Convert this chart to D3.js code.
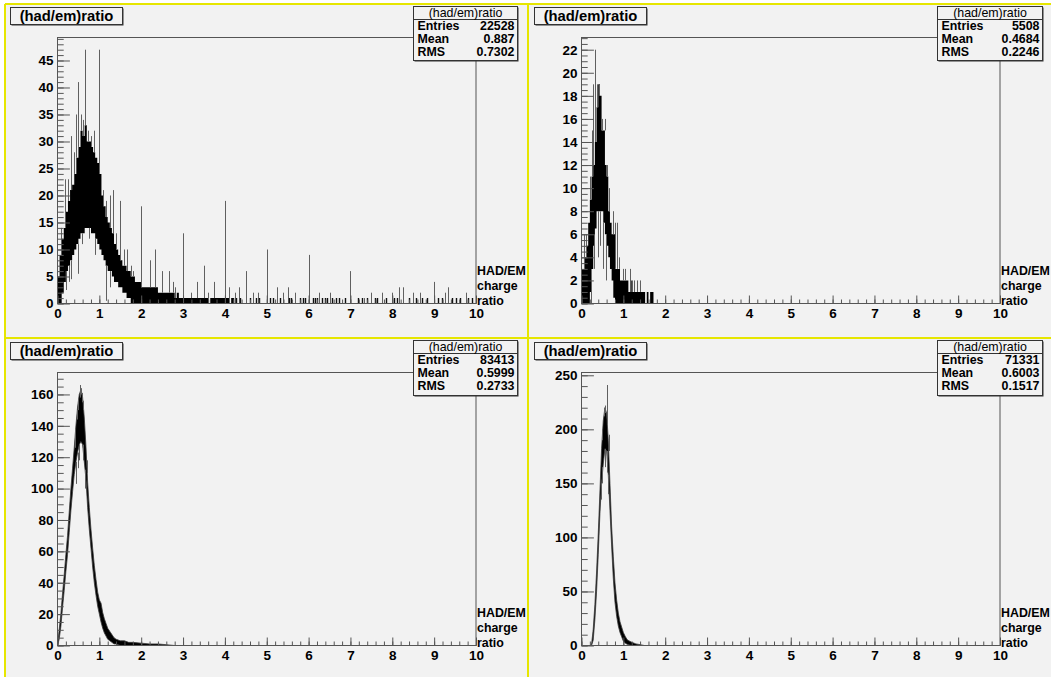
<!DOCTYPE html>
<html>
<head>
<meta charset="utf-8">
<script src="https://cdn.jsdelivr.net/npm/d3@7"></script>
<style>
  html, body { margin: 0; padding: 0; background: #ffffff; }
  svg { display: block; font-family: "Liberation Sans", Arial, Helvetica, sans-serif; }
</style>
</head>
<body>
<svg id="canvas" width="1051" height="677"></svg>
<script>
// ------------------------------------------------------------------
// Histogram data: (had/em) charge ratio, four samples.
// Each dense region is stored as a band (lowest / highest bin count
// inside each small ratio slice); isolated bins are stored as spikes
// [ratio, from, to].
// ------------------------------------------------------------------
const histTitle = "(had/em)ratio";
const axisTitleLines = ["HAD/EM", "charge", "ratio"];
const statLabels = ["Entries", "Mean", "RMS"];
const statEntries = ["22528", "5508", "83413", "71331"];
const statMeans   = ["0.887", "0.4684", "0.5999", "0.6003"];
const statRMS     = ["0.7302", "0.2246", "0.2733", "0.1517"];

const xTickLabels = [0, 1, 2, 3, 4, 5, 6, 7, 8, 9, 10];

// --- top-left sample (22528 entries) ---
const ratioTL = [0.00,0.05,0.10,0.15,0.20,0.25,0.30,0.35,0.40,0.45,0.50,0.55,0.60,0.65,0.70,0.75,0.80,0.85,0.90,0.95,
                 1.00,1.05,1.10,1.15,1.20,1.25,1.30,1.35,1.40,1.45,1.50,1.55,1.60,1.65,1.70,1.75,1.80,1.85,1.90,1.95,
                 2.00,2.05,2.10,2.15,2.20,2.25,2.30,2.35,2.40,2.45,2.50,2.55,2.60,2.65,2.70,2.75,2.80,2.85,2.90,2.95,
                 3.00,3.05,3.10,3.15,3.20,3.25,3.30,3.35,3.40,3.45,3.50,3.55,3.60,3.65,3.70,3.75,3.80,3.85,3.90,3.95,
                 4.00,4.05,4.10,4.15,4.20];
const hiTL = [5,9,12,14,17,19,21,22,24,27,29,32,31,33,30,30,29,28,27,26,
              24,20,18,16,15,14,13,11,10,9,8,7,7,6,6,5,5,4,4,4,
              3,3,3,3,3,3,3,3,2,2,2,2,2,2,2,2,1,2,1,1,
              1,1,1,1,1,1,1,1,1,1,1,1,0,1,1,1,1,1,1,1,
              1,1,0,1,0];
const loTL = [0,0,2,4,6,7,8,9,10,11,12,13,13,14,14,14,13,13,12,11,
              10,9,8,7,6,6,5,4,4,3,3,2,2,1,1,0,0,0,0,0,
              0,0,0,0,0,0,0,0,0,0,0,0,0,0,0,0,0,0,0,0,
              0,0,0,0,0,0,0,0,0,0,0,0,0,0,0,0,0,0,0,0,
              0,0,0,0,0];
const spikesTL = [
  [0.08,9,14],[0.17,14,23],[0.24,19,23],[0.333,21,31],[0.40,24,28],[0.45,27,35],[0.50,29,41],
  [0.55,32,35],[0.60,31,34],[0.667,33,47],[0.73,30,32],[0.80,29,31],[0.88,28,32],[1.00,24,47],
  [1.08,18,21],[1.167,16,19],[1.25,14,20],[1.333,13,21],[1.40,10,13],[1.50,8,19],[1.60,7,10],
  [1.667,6,10],[1.75,5,7],[1.80,5,6],[2.00,3,18],[2.20,3,8],[2.333,3,10],[2.50,2,6],[2.667,2,6],
  [2.75,2,4],[2.80,1,3],[3.00,1,13],[3.20,1,2],[3.333,1,4],[3.50,1,7],[3.60,0,2],[3.75,1,4],
  [4.00,1,19],[4.10,0,3],[4.25,0,2],[4.333,0,3],[4.50,0,6],[4.667,0,2],[4.80,0,2],[5.00,0,10],
  [5.25,0,3],[5.40,0,2],[5.50,0,3],[5.667,0,2],[6.00,0,9],[6.25,0,2],[6.50,0,2],[7.00,0,6],
  [7.333,0,1],[7.50,0,2],[7.75,0,2],[8.00,0,2],[8.167,0,3],[8.25,0,3],[8.50,0,2],[8.667,0,2],
  [9.00,0,4],[9.25,0,2],[9.333,0,3],[9.75,0,2],
  [0.20,2.5,6],[0.27,4,7],[0.333,4.5,8],[0.48,5.5,11],[0.58,11,13],[0.75,12,14],[0.90,9,12],
  [1.167,0.5,7],[1.25,3,6]
];
const singlesTL = [4.19,4.27,4.37,4.59,4.75,4.82,5.08,5.14,5.32,5.54,5.58,5.80,5.87,5.92,6.11,6.16,
                   6.21,6.33,6.38,6.43,6.57,6.65,6.73,6.87,7.19,7.27,7.40,7.58,7.64,7.86,8.05,8.11,
                   8.39,8.56,8.72,8.83,9.10,9.19,9.43,9.53,9.61,9.80,9.90];
const yTicksTL = [0,5,10,15,20,25,30,35,40,45];

// --- top-right sample (5508 entries) ---
const ratioTR = [0.00,0.04,0.08,0.12,0.16,0.20,0.24,0.28,0.32,0.36,0.40,0.44,0.48,0.52,0.56,0.60,0.64,0.68,0.72,0.76,
                 0.80,0.84,0.88,0.92,0.96,1.00,1.04,1.08,1.12,1.16,1.20,1.24,1.28,1.32,1.36,1.40,1.44,1.48,1.52,1.56,
                 1.60,1.64,1.68,1.72];
const hiTR = [3,3,4,5,7,9,11,12,14,17,19,18,15,15,12,11,8,7,6,6,
              3,3,3,2,2,2,2,2,1,2,1,1,1,1,1,1,1,1,0,1,
              0,1,1,0];
const loTR = [0,0,0,0,0,1,3,5,6.5,8,8,8,8,7,6,5,4,3,2,0.5,
              0,0,0,0,0,0,0,0,0,0,0,0,0,0,0,0,0,0,0,0,
              0,0,0,0];
const spikesTR = [
  [0.05,3,6],[0.10,4,6],[0.20,9,11],[0.24,11,15],[0.28,12,19],[0.333,14,22],[0.37,17,19],
  [0.43,18,19],[0.50,15,16],[0.55,15,16],[0.60,11,12],[0.667,8,10],[0.75,6,8],[0.80,3,7],
  [0.857,3,7],[0.90,3,4],[1.00,2,3],[1.05,2,3],[1.15,1,3],[1.20,1,2],[1.25,1,2],[1.333,1,2],[1.40,1,2],
  [0.22,0,2],[0.30,3,6],[0.40,4,8],[0.45,5,8],[0.52,3,7],[0.58,2,6]
];
const yTicksTR = [0,2,4,6,8,10,12,14,16,18,20,22];

// --- bottom-left sample (83413 entries) ---
const ratioBL = [0.00,0.04,0.08,0.12,0.16,0.20,0.24,0.28,0.32,0.36,0.40,0.44,0.48,0.52,0.56,0.60,0.64,0.68,0.72,0.76,
                 0.80,0.84,0.88,0.92,0.96,1.00,1.04,1.08,1.12,1.16,1.20,1.25,1.30,1.35,1.40,1.50,1.60,1.70,1.80,2.00,
                 2.20,2.40,2.60,2.80];
const hiBL = [0,10,20,33,45,58,70,85,100,113,126,140,152,160,163,158,145,127,104,88,
              74,62,51,42,34,29,27,21,17,14,11,9,7,5,4,3,3,2,2,1.5,
              1,1,0.5,0];
const loBL = [0,4,12,24,35,47,58,72,86,98,109,117,123,128,130,128,117,106,88,74,
              62,50,40,32,25,20,15,11,8,6,4,3,2,1,1,0,0,0,0,0,
              0,0,0,0];
const spikesBL = [
  [0.41,126,138],[0.46,144,150],[0.50,150,157],[0.533,158,166],[0.56,160,164],[0.59,155,161],
  [0.62,150,156],[0.70,110,118],
  [0.44,103,117],[0.49,113,123],[0.52,118,128],[0.60,118,128],[0.66,100,112]
];
const yTicksBL = [0,20,40,60,80,100,120,140,160];

// --- bottom-right sample (71331 entries) ---
const ratioBR = [0.20,0.24,0.28,0.32,0.36,0.40,0.44,0.48,0.52,0.56,0.60,0.64,0.68,0.72,0.76,0.80,0.84,0.88,0.92,0.96,
                 1.00,1.05,1.10,1.20,1.30,1.40,1.50];
const hiBR = [0,1,15,38,68,103,142,182,208,220,215,190,150,110,82,58,42,30,22,17,
              12,8,5,3,1.5,0.8,0];
const loBR = [0,0,5,24,50,84,122,150,168,182,180,158,125,92,62,40,27,18,12,8,
              4,2,1,0,0,0,0];
const spikesBR = [
  [0.50,190,200],[0.54,212,220],[0.57,215,222],[0.617,205,241],[0.65,180,195],
  [0.47,135,150],[0.50,150,165],[0.56,165,182],[0.60,160,180],[0.64,140,158]
];
const yTicksBR = [0,50,100,150,200,250];

// ------------------------------------------------------------------
// Drawing
// ------------------------------------------------------------------
const svg = d3.select("#canvas");
const PAD_BG = "#f2f2f2";
const AXIS_COL = "#555555";
const FONT = "'Liberation Sans', Arial, Helvetica, sans-serif";

// canvas background for the pads
svg.append("rect").attr("x", 5).attr("y", 4).attr("width", 1046).attr("height", 673).attr("fill", PAD_BG);

const pads = [
  { frame: {left: 57.5, right: 476, top: 37, bottom: 303.5}, title: [10, 7], stats: [413, 6, 104, 54],
    xs: ratioTL, hi: hiTL, lo: loTL, spikes: spikesTL, singles: singlesTL, yTicks: yTicksTL, yMinor: 1,
    curve: d3.curveStepAfter, stat: 0 },
  { frame: {left: 581.5, right: 1000, top: 37, bottom: 303.5}, title: [534, 7], stats: [937, 6, 105, 54],
    xs: ratioTR, hi: hiTR, lo: loTR, spikes: spikesTR, singles: [], yTicks: yTicksTR, yMinor: 0.5,
    curve: d3.curveStepAfter, stat: 1 },
  { frame: {left: 57.5, right: 476, top: 372, bottom: 645.5}, title: [10, 342], stats: [413, 340, 104, 55],
    xs: ratioBL, hi: hiBL, lo: loBL, spikes: spikesBL, singles: [], yTicks: yTicksBL, yMinor: 5,
    curve: d3.curveLinear, stat: 2 },
  { frame: {left: 581.5, right: 1000, top: 372, bottom: 645.5}, title: [534, 342], stats: [937, 340, 105, 55],
    xs: ratioBR, hi: hiBR, lo: loBR, spikes: spikesBR, singles: [], yTicks: yTicksBR, yMinor: 10,
    curve: d3.curveLinear, stat: 3 }
];

function styleAxis(sel) {
  sel.select(".domain").remove();
  sel.selectAll(".tick line").attr("stroke", AXIS_COL).attr("stroke-width", 1);
  sel.selectAll(".tick text")
    .attr("fill", "#000")
    .style("font-family", FONT)
    .style("font-weight", "bold")
    .style("font-size", "13.5px");
}

pads.forEach((p, idx) => {
  const {left, right, top, bottom} = p.frame;
  const g = svg.append("g");

  const x = d3.scaleLinear().domain([0, 10]).range([left, right]);
  const maxBin = d3.max([d3.max(p.hi), d3.max(p.spikes, s => s[2])]);
  const y = d3.scaleLinear().domain([0, maxBin * 1.05]).range([bottom, top]);

  const clipId = "clip" + idx;
  svg.append("clipPath").attr("id", clipId)
    .append("rect").attr("x", left).attr("y", top).attr("width", right - left).attr("height", bottom - top);

  const plot = g.append("g").attr("clip-path", `url(#${clipId})`);

  // dense band
  const band = p.xs.map((v, i) => ({x: v, lo: p.lo[i], hi: p.hi[i]}));
  const area = d3.area().x(d => x(d.x)).y0(d => y(d.lo)).y1(d => y(d.hi)).curve(p.curve);
  plot.append("path").datum(band).attr("d", area)
    .attr("fill", "#000")
    .attr("stroke", p.curve === d3.curveLinear ? "#3a3a3a" : "none")
    .attr("stroke-width", 0.8);

  // isolated bins
  plot.selectAll("line.spike").data(p.spikes).join("line")
    .attr("class", "spike")
    .attr("x1", d => Math.round(x(d[0])) + 0.5).attr("x2", d => Math.round(x(d[0])) + 0.5)
    .attr("y1", d => y(d[1])).attr("y2", d => y(d[2]))
    .attr("stroke", "#606060").attr("stroke-width", 1);

  plot.selectAll("line.single").data(p.singles).join("line")
    .attr("class", "single")
    .attr("x1", d => Math.round(x(d)) + 0.5).attr("x2", d => Math.round(x(d)) + 0.5)
    .attr("y1", y(0)).attr("y2", y(1))
    .attr("stroke", "#111").attr("stroke-width", 1.4);

  // axes
  const xMinor = d3.range(0, 10.001, 0.2);
  g.append("g").attr("transform", `translate(0,${bottom})`)
    .call(d3.axisBottom(x).tickValues(xMinor).tickSize(-4).tickFormat(""))
    .call(styleAxis);
  g.append("g").attr("transform", `translate(0,${bottom})`)
    .call(d3.axisBottom(x).tickValues(xTickLabels).tickSize(-8).tickPadding(5).tickFormat(d3.format("d")))
    .call(styleAxis);

  const yMinorTicks = d3.range(0, y.domain()[1], p.yMinor);
  g.append("g").attr("transform", `translate(${left},0)`)
    .call(d3.axisLeft(y).tickValues(yMinorTicks).tickSize(-6.2).tickFormat(""))
    .call(styleAxis);
  g.append("g").attr("transform", `translate(${left},0)`)
    .call(d3.axisLeft(y).tickValues(p.yTicks).tickSize(-12.4).tickPadding(4).tickFormat(d3.format("d")))
    .call(styleAxis);

  // frame
  g.append("rect").attr("x", left).attr("y", top + 0.5).attr("width", right - left).attr("height", bottom - top - 0.5)
    .attr("fill", "none").attr("stroke", AXIS_COL).attr("stroke-width", 1);

  // axis title
  const at = g.append("text")
    .style("font-family", FONT).style("font-weight", "bold").style("font-size", "12.4px").attr("fill", "#000");
  axisTitleLines.forEach((t, i) => {
    at.append("tspan").attr("x", right + 1).attr("y", bottom + [-29, -13.5, 1.5][i]).text(t);
  });

  // title box
  const [tx, ty] = p.title;
  g.append("rect").attr("x", tx + 1.5).attr("y", ty + 1.5).attr("width", 112).attr("height", 17).attr("fill", "#333");
  g.append("rect").attr("x", tx + 0.5).attr("y", ty + 0.5).attr("width", 112).attr("height", 17)
    .attr("fill", PAD_BG).attr("stroke", "#333").attr("stroke-width", 1);
  g.append("text").attr("x", tx + 56.5).attr("y", ty + 14).attr("text-anchor", "middle")
    .style("font-family", FONT).style("font-weight", "bold").style("font-size", "14.8px").attr("fill", "#000")
    .text(histTitle);

  // statistics box
  const [sx, sy, sw, sh] = p.stats;
  g.append("rect").attr("x", sx + 1.5).attr("y", sy + 1.5).attr("width", sw).attr("height", sh).attr("fill", "#333");
  g.append("rect").attr("x", sx + 0.5).attr("y", sy + 0.5).attr("width", sw).attr("height", sh)
    .attr("fill", PAD_BG).attr("stroke", "#333").attr("stroke-width", 1);
  g.append("line").attr("x1", sx + 0.5).attr("x2", sx + sw + 0.5).attr("y1", sy + 13.5).attr("y2", sy + 13.5)
    .attr("stroke", "#333").attr("stroke-width", 1);
  g.append("text").attr("x", sx + sw / 2 + 0.5).attr("y", sy + 11).attr("text-anchor", "middle")
    .style("font-family", FONT).style("font-size", "12.4px").attr("fill", "#000").text(histTitle);
  const vals = [statEntries[p.stat], statMeans[p.stat], statRMS[p.stat]];
  statLabels.forEach((lab, i) => {
    const by = sy + 23.5 + i * 13.4;
    g.append("text").attr("x", sx + 4.5).attr("y", by)
      .style("font-family", FONT).style("font-weight", "bold").style("font-size", "12.4px").attr("fill", "#000").text(lab);
    g.append("text").attr("x", sx + sw - 2.5).attr("y", by).attr("text-anchor", "end")
      .style("font-family", FONT).style("font-weight", "bold").style("font-size", "12.4px").attr("fill", "#000").text(vals[i]);
  });
});

// pad borders
const YELLOW = "#e6e600";
[[5, 4, 5, 677], [528, 4, 528, 677], [5, 4, 1051, 4], [5, 338, 1051, 338]].forEach(([x1, y1, x2, y2]) => {
  svg.append("line").attr("x1", x1).attr("y1", y1).attr("x2", x2).attr("y2", y2)
    .attr("stroke", YELLOW).attr("stroke-width", 2);
});
</script>
</body>
</html>
